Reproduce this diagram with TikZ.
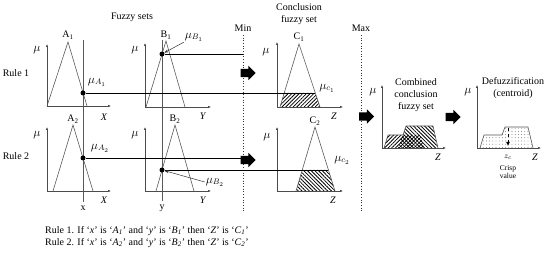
\documentclass[tikz,border=0pt]{standalone}
\usepackage{fontspec}
\setmainfont{Liberation Serif}
\usetikzlibrary{arrows.meta,shapes.arrows,patterns.meta}

\begin{document}
\begin{tikzpicture}[x=1pt,y=-1pt,
    ax/.style={draw=black!70,line width=0.7pt,-{Latex[length=3pt,width=2.6pt]}},
    mf/.style={draw=black!65,line width=0.6pt},
    guide/.style={draw=black!65,line width=0.6pt},
    proj/.style={draw=black,line width=0.6pt},
    divider/.style={draw=black!80,dotted,line width=0.7pt},
    pnt/.style={circle,fill=black,inner sep=0pt,minimum size=5pt},
    ptr/.style={draw=black!80,line width=0.5pt,-{Stealth[length=4pt,width=3pt]}},
    bigarrow/.style={single arrow,fill=black,inner xsep=0pt,inner ysep=4pt,minimum height=15pt,single arrow head extend=3pt},
    hatchA/.style={pattern={Lines[angle=45,distance=2.6pt,line width=0.8pt]}},
    hatchB/.style={pattern={Lines[angle=-45,distance=2.6pt,line width=0.8pt]}},
    speckle/.style={pattern={Dots[distance=3.2pt,radius=0.4pt]},pattern color=black!75},
    lbl/.style={inner sep=1pt,font=\large},
    crisp/.style={font=\fontsize{7.5}{8.5}\selectfont,align=center}
  ]
    \useasboundingbox (0,0) rectangle (550,253);

    % headings
    \node (fuzzy) at (132,17) {Fuzzy sets};
    \node[align=center] (concl) at (299,14.5) {Conclusion\\fuzzy set};
    \node (min) at (243,28) {Min};
    \node (max) at (361,28) {Max};
    \node (rule1) at (16,73) {Rule 1};
    \node (rule2) at (16,156) {Rule 2};

    % Min / Max dividers
    \coordinate (minend) at (243,212);
    \coordinate (maxend) at (361,212);
    \draw[divider] (min.south) -- (minend);
    \draw[divider] (max.south) -- (maxend);

    % crisp inputs x and y
    \coordinate (xtop) at (83,40);
    \coordinate (ytop) at (162,40);
    \node (xval) at (83,208) {x};
    \node (yval) at (162,208) {y};
    \draw[guide] (xtop) -- (xval);
    \draw[guide] (ytop) -- (yval);

    % ---- Rule 1 : A1
    \coordinate (a1o) at (47,106); \coordinate (a1y) at (47,44); \coordinate (a1x) at (111,106);
    \coordinate (a1l) at (47,106); \coordinate (a1t) at (68,42); \coordinate (a1r) at (87,106);
    \draw[ax] (a1o) -- (a1y); \draw[ax] (a1o) -- (a1x);
    \draw[mf] (a1l) -- (a1t) -- (a1r);
    \node[lbl] (mua) at (37,50) {$\mu$};
    \node (la1) at (68,35) {A\textsubscript{1}};
    \node (xa1) at (104,117) {\textit{X}};
    \node[lbl] (mua1) at (97,82) {$\mu_{A_1}$};

    % ---- Rule 1 : B1
    \coordinate (b1o) at (145,107); \coordinate (b1y) at (145,43); \coordinate (b1x) at (211,107);
    \coordinate (b1l) at (146,107); \coordinate (b1t) at (166,41); \coordinate (b1r) at (185,107);
    \draw[ax] (b1o) -- (b1y); \draw[ax] (b1o) -- (b1x);
    \draw[mf] (b1l) -- (b1t) -- (b1r);
    \node[lbl] (mub) at (135,50) {$\mu$};
    \node (lb1) at (166,35) {B\textsubscript{1}};
    \node (yb1) at (203,116) {\textit{Y}};
    \node[lbl] (mub1) at (194,37) {$\mu_{B_1}$};

    % ---- Rule 1 : C1
    \coordinate (c1o) at (277,107); \coordinate (c1y) at (277,42); \coordinate (c1x) at (343,107);
    \coordinate (c1l) at (280,107); \coordinate (c1t) at (299,44); \coordinate (c1r) at (320,107);
    \coordinate (c1lo) at (284.2,93); \coordinate (c1hi) at (315.3,93);
    \fill[hatchA] (c1l) -- (c1lo) -- (c1hi) -- (c1r) -- cycle;
    \draw[ax] (c1o) -- (c1y); \draw[ax] (c1o) -- (c1x);
    \draw[mf] (c1l) -- (c1t) -- (c1r);
    \node[lbl] (muc) at (266,52) {$\mu$};
    \node (lc1) at (299,37) {C\textsubscript{1}};
    \node (zc1) at (334,116) {\textit{Z}};
    \node[lbl] (muc1) at (327,88) {$\mu_{c_1}$};

    % rule 1 firing
    \node[pnt] (pa1) at (83,93) {};
    \node[pnt] (pb1) at (162,54) {};
    \coordinate (min1) at (243,54);
    \draw[proj] (pa1) -- (c1hi);
    \draw[proj] (pb1) -- (min1);
    \draw[ptr] (mub1.south west) -- (pb1);
    \node[bigarrow] (arr1) at (246,73) {};

    % ---- Rule 2 : A2
    \coordinate (a2o) at (47,191); \coordinate (a2y) at (47,127); \coordinate (a2x) at (111,191);
    \coordinate (a2l) at (53,191); \coordinate (a2t) at (73,125); \coordinate (a2r) at (93,191);
    \draw[ax] (a2o) -- (a2y); \draw[ax] (a2o) -- (a2x);
    \draw[mf] (a2l) -- (a2t) -- (a2r);
    \node[lbl] (mua') at (37,135) {$\mu$};
    \node (la2) at (73,119) {A\textsubscript{2}};
    \node (xa2) at (104,200) {\textit{X}};
    \node[lbl] (mua2) at (100,148) {$\mu_{A_2}$};

    % ---- Rule 2 : B2
    \coordinate (b2o) at (145,191); \coordinate (b2y) at (145,127); \coordinate (b2x) at (211,191);
    \coordinate (b2l) at (156,191); \coordinate (b2t) at (175,125); \coordinate (b2r) at (194,191);
    \draw[ax] (b2o) -- (b2y); \draw[ax] (b2o) -- (b2x);
    \draw[mf] (b2l) -- (b2t) -- (b2r);
    \node[lbl] (mub') at (135,135) {$\mu$};
    \node (lb2) at (175,119) {B\textsubscript{2}};
    \node (yb2) at (203,200) {\textit{Y}};
    \node[lbl] (mub2) at (215,182) {$\mu_{B_2}$};

    % ---- Rule 2 : C2
    \coordinate (c2o) at (277,191); \coordinate (c2y) at (277,127); \coordinate (c2x) at (343,191);
    \coordinate (c2l) at (296,191); \coordinate (c2t) at (315,127); \coordinate (c2r) at (335,191);
    \coordinate (c2lo) at (302.2,170); \coordinate (c2hi) at (328.4,170);
    \fill[hatchB] (c2l) -- (c2lo) -- (c2hi) -- (c2r) -- cycle;
    \draw[ax] (c2o) -- (c2y); \draw[ax] (c2o) -- (c2x);
    \draw[mf] (c2l) -- (c2t) -- (c2r);
    \node[lbl] (muc') at (267,137) {$\mu$};
    \node (lc2) at (315,121) {C\textsubscript{2}};
    \node (zc2) at (333,200) {\textit{Z}};
    \node[lbl] (muc2) at (342,160) {$\mu_{c_2}$};

    % rule 2 firing
    \node[pnt] (pa2) at (83,158) {};
    \node[pnt] (pb2) at (162,170) {};
    \coordinate (min2) at (243,158);
    \draw[proj] (pa2) -- (min2);
    \draw[proj] (pb2) -- (c2hi);
    \draw[ptr] (mub2.west) -- (pb2);
    \node[bigarrow] (arr2) at (246,160) {};

    % ---- aggregation (Max)
    \node[bigarrow] (arr3) at (364.5,116.5) {};
    \coordinate (cbo) at (382,148); \coordinate (cby) at (382,85); \coordinate (cbx) at (446,148);
    \coordinate (k1) at (384,148); \coordinate (k2) at (388,135); \coordinate (k3) at (420,135); \coordinate (k4) at (424,148);
    \coordinate (k5) at (398,148); \coordinate (k6) at (406,126); \coordinate (k7) at (433,126); \coordinate (k8) at (438,148);
    \coordinate (kstep) at (403,135);
    \fill[hatchA] (k1) -- (k2) -- (k3) -- (k4) -- cycle;
    \fill[hatchB] (k5) -- (k6) -- (k7) -- (k8) -- cycle;
    \draw[mf] (k1) -- (k2) -- (kstep) -- (k6) -- (k7) -- (k8);
    \draw[ax] (cbo) -- (cby); \draw[ax] (cbo) -- (cbx);
    \node[lbl] (mucb) at (373,92) {$\mu$};
    \node (zcb) at (438,157) {\textit{Z}};
    \node[align=center] (comb) at (416,95) {Combined\\conclusion\\fuzzy set};

    % ---- defuzzification
    \node[bigarrow] (arr4) at (451,117) {};
    \coordinate (dfo) at (477,148); \coordinate (dfy) at (477,85); \coordinate (dfx) at (541,148);
    \coordinate (d1) at (480,148); \coordinate (d2) at (484,135); \coordinate (d3) at (502,135);
    \coordinate (d4) at (505,127); \coordinate (d5) at (528,127); \coordinate (d6) at (533,148);
    \fill[speckle] (d1) -- (d2) -- (d3) -- (d4) -- (d5) -- (d6) -- cycle;
    \draw[mf] (d1) -- (d2) -- (d3) -- (d4) -- (d5) -- (d6);
    \draw[ax] (dfo) -- (dfy); \draw[ax] (dfo) -- (dfx);
    \coordinate (zctop) at (508,128); \coordinate (zcbot) at (508,146);
    \draw[dashed,line width=0.8pt,-{Latex[length=4pt,width=4pt]}] (zctop) -- (zcbot);
    \node[lbl] (mudf) at (468,92) {$\mu$};
    \node (zdf) at (535,157) {\textit{Z}};
    \node[font=\footnotesize] (zcen) at (508,157) {$z_c$};
    \node[crisp] (crispv) at (508,172) {Crisp\\value};
    \node[align=center] (defuzz) at (513,88.5) {Defuzzification\\(centroid)};

    % rule statements
    \node[anchor=west,align=left,inner sep=0pt] (rules) at (45,237)
      {Rule 1. If `\textit{x}' is `\textit{A\textsubscript{1}}' and `\textit{y}' is `\textit{B\textsubscript{1}}' then `\textit{Z}' is `\textit{C\textsubscript{1}}'\\
       Rule 2. If `\textit{x}' is `\textit{A\textsubscript{2}}' and `\textit{y}' is `\textit{B\textsubscript{2}}' then `\textit{Z}' is `\textit{C\textsubscript{2}}'};
  \end{tikzpicture}
\end{document}
